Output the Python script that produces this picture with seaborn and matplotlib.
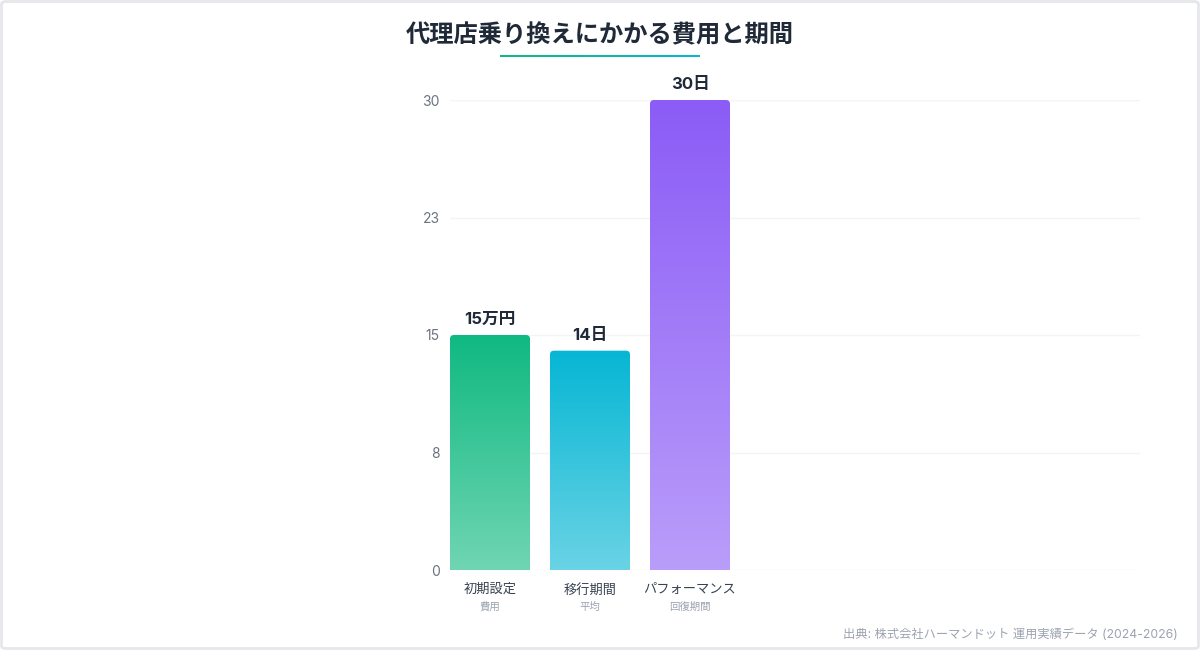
import numpy as np
import pandas as pd
import matplotlib
matplotlib.use("Agg")
import matplotlib.pyplot as plt
import seaborn as sns
from matplotlib.patches import FancyBboxPatch
from matplotlib.colors import to_rgb
import matplotlib.transforms as mtransforms

# ---- data ----
categories = ["初期設定", "移行期間", "パフォーマンス"]
subtitles = ["費用", "平均", "回復期間"]
values = [15, 14, 30]
value_labels = ["15万円", "14日", "30日"]
bar_colors = ["#10b981", "#06b6d4", "#8b5cf6"]
yticks = [0, 7.5, 15, 22.5, 30]
ytick_labels = ["0", "8", "15", "23", "30"]
title = "代理店乗り換えにかかる費用と期間"
source = "出典: 株式会社ハーマンドット 運用実績データ (2024-2026)"

sns.set_theme(style="white")
plt.rcParams["font.family"] = ["Inter", "Noto Sans CJK JP", "DejaVu Sans"]

W, H = 1200, 650
fig = plt.figure(figsize=(12, 6.5), dpi=100)
fig.patch.set_facecolor("white")

# border
fig.add_artist(FancyBboxPatch((1.5 / W, 1.5 / H), 1 - 3 / W, 1 - 3 / H,
                              boxstyle="round,pad=0,rounding_size=0.004",
                              transform=fig.transFigure, facecolor="none",
                              edgecolor="#e5e7eb", linewidth=2.0, zorder=0))

ax = fig.add_axes([450 / W, 80 / H, 690 / W, 470 / H])
df = pd.DataFrame({"cat": categories, "val": values})
sns.barplot(data=df, x="cat", y="val", hue="cat", palette=bar_colors,
            legend=False, ax=ax, width=0.8, saturation=1)

xlim = (-0.4, 6.5)
ylim = (0, 30)
px_x = 690 / (xlim[1] - xlim[0])
px_y = 470 / (ylim[1] - ylim[0])
r_px = 4
rx = r_px / px_x
asp = (r_px / px_y) / rx

for patch, col in zip(ax.patches, bar_colors):
    x0 = patch.get_x()
    w = patch.get_width()
    h = patch.get_height()
    patch.set_visible(False)
    c = np.array(to_rgb(col))
    t = np.linspace(0, 1, 256)[:, None]
    rgb = c[None, :] * (1 - 0.4 * t) + 0.4 * t
    img = rgb[:, None, :]
    im = ax.imshow(img, extent=[x0, x0 + w, 0, h], origin="upper",
                   aspect="auto", zorder=2, interpolation="bilinear")
    clip = FancyBboxPatch((x0, -2), w, h + 2,
                          boxstyle=f"round,pad=0,rounding_size={rx}",
                          mutation_aspect=asp, transform=ax.transData)
    im.set_clip_path(clip)

for i, (v, lab) in enumerate(zip(values, value_labels)):
    ax.annotate(lab, (i, v), xytext=(0, 11), textcoords="offset points",
                ha="center", va="center", fontsize=12, fontweight="bold",
                color="#1f2937")

ax.set_xlim(*xlim)
ax.set_ylim(*ylim)
ax.set_yticks(yticks)
ax.set_yticklabels(ytick_labels)
ax.set_xticks([])
ax.set_xlabel("")
ax.set_ylabel("")
ax.tick_params(axis="y", length=0, pad=7.5, labelsize=10, labelcolor="#6b7280")
ax.yaxis.grid(True, color="#f3f4f6", linewidth=1)
ax.set_axisbelow(True)
for s in ax.spines.values():
    s.set_visible(False)

trans = mtransforms.blended_transform_factory(ax.transData, fig.transFigure)
for i, (c, sub) in enumerate(zip(categories, subtitles)):
    ax.text(i, 1 - 590 / H, c, transform=trans, ha="center", va="center",
            fontsize=9.5, color="#374151", clip_on=False)
    ax.text(i, 1 - 607 / H, sub, transform=trans, ha="center", va="center",
            fontsize=7.5, color="#9ca3af", clip_on=False)

fig.text(0.5, 1 - 36 / H, title, ha="center", va="center", fontsize=17.5,
         fontweight="bold", color="#1f2937")

# gradient underline
ul = fig.add_axes([500 / W, 1 - 57.5 / H, 200 / W, 3 / H])
grad = np.linspace(0, 1, 256)[None, :, None]
g0 = np.array(to_rgb("#10b981"))
g1 = np.array(to_rgb("#06b6d4"))
ul.imshow(g0 * (1 - grad) + g1 * grad, aspect="auto", extent=[0, 1, 0, 1])
ul.axis("off")

fig.text(1178 / W, 1 - 635 / H, source, ha="right", va="center",
         fontsize=8.8, color="#9ca3af")

fig.savefig("out.png", dpi=100, facecolor="white")
